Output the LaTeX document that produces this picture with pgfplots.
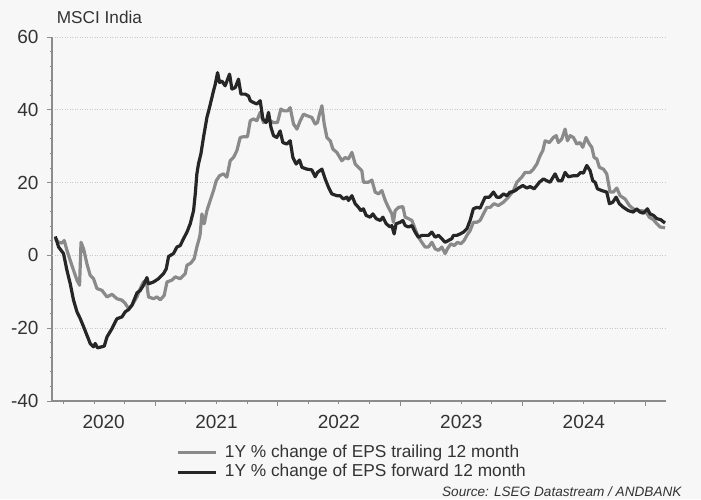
\documentclass[border=0pt]{standalone}
\usepackage{pgfplots}
\pgfplotsset{compat=1.18}
\usepackage{fontspec}
\setmainfont{Liberation Sans}
\definecolor{bg}{RGB}{247,247,247}
\definecolor{txt}{RGB}{51,51,51}
\definecolor{axisgray}{RGB}{140,140,140}
\definecolor{trail}{RGB}{138,138,138}
\definecolor{fwd}{RGB}{38,38,38}
\definecolor{gridc}{RGB}{200,200,200}
\begin{document}
\begin{tikzpicture}[x=1pt,y=1pt]
\fill[bg] (0,0) rectangle (701,499);
\useasboundingbox (0,0) rectangle (701,499);
\node[anchor=base west, font=\fontsize{17.2}{20}\selectfont, text=txt, inner sep=0pt] at (56.7,475.7) {MSCI India};
\node[anchor=base east, font=\fontsize{13.6}{16}\selectfont\itshape, text=txt, inner sep=0pt] at (681.7,2.3) {Source: LSEG Datastream / ANDBANK};
\begin{axis}[
  at={(52pt,98pt)}, anchor=south west,
  scale only axis, width=614pt, height=364pt,
  xmin=2020.157, xmax=2025.171, ymin=-40, ymax=60,
  axis x line*=bottom, axis y line*=left,
  axis line style={axisgray, line width=1.2pt, -},
  tick align=outside,
  major tick length=5pt, minor tick length=2.5pt,
  tick style={axisgray, line width=1pt},
  ytick={-40,-20,0,20,40,60}, minor y tick num=4,
  ymajorgrids,
  y grid style={gridc, dash pattern=on 1pt off 1.5pt, line width=0.9pt},
  extra y ticks={0}, extra y tick labels={},
  extra y tick style={grid=major, major grid style={axisgray, solid, line width=1.3pt}},
  xtick={2021,2022,2023,2024,2025}, xticklabels={,,,,},
  minor xtick={2020.25,2020.5,2020.75,2021.25,2021.5,2021.75,2022.25,2022.5,2022.75,2023.25,2023.5,2023.75,2024.25,2024.5,2024.75},
  extra x ticks={2020.579,2021.5,2022.5,2023.5,2024.5},
  extra x tick labels={2020,2021,2022,2023,2024},
  extra x tick style={major tick length=0pt},
  tick label style={font=\fontsize{19}{22}\selectfont, text=txt},
  x tick label style={yshift=-11pt},
  y tick label style={xshift=-5pt},
  /pgf/number format/assume math mode=true,
  legend style={at={(axis description cs:0.2031,-0.12)}, anchor=north west,
    draw=none, fill=none, font=\fontsize{17.3}{20}\selectfont, text=txt,
    inner sep=0pt, outer sep=0pt, row sep=3.5pt, column sep=7pt,
    nodes={inner sep=0pt, text depth=3.5pt, text height=12.5pt}},
  legend cell align=left,
  legend image code/.code={\draw[#1] (0pt,0pt) -- (38pt,0pt);},
]
\addplot[trail, line width=3.2pt, line join=round] coordinates {
(2020.184,4.6)(2020.211,3.6)(2020.238,3.4)(2020.257,4.1)(2020.279,1.4)(2020.306,-1.4)(2020.333,-4.1)(2020.361,-6.8)(2020.382,-8.2)(2020.394,3.6)(2020.415,1.8)(2020.442,-2.3)(2020.469,-5.5)(2020.496,-6.4)(2020.524,-9.1)(2020.565,-9.6)(2020.606,-11.4)(2020.647,-10.7)(2020.687,-11.9)(2020.728,-12.3)(2020.755,-13.2)(2020.782,-14.6)(2020.810,-13.7)(2020.851,-11.4)(2020.878,-9.1)(2020.904,-7.3)(2020.927,-6.8)(2020.945,-11.4)(2020.986,-11.9)(2021.014,-11.4)(2021.041,-12.2)(2021.073,-11.0)(2021.096,-7.3)(2021.136,-6.8)(2021.163,-5.9)(2021.204,-6.4)(2021.245,-5.0)(2021.259,-2.7)(2021.291,-2.1)(2021.318,-0.9)(2021.340,2.3)(2021.362,5.0)(2021.367,5.9)(2021.381,11.4)(2021.400,8.7)(2021.422,12.3)(2021.449,15.1)(2021.476,17.8)(2021.498,20.5)(2021.525,21.9)(2021.558,22.4)(2021.585,21.5)(2021.612,26.0)(2021.639,26.9)(2021.667,28.8)(2021.694,32.4)(2021.721,32.6)(2021.753,32.6)(2021.776,37.0)(2021.802,37.5)(2021.830,37.0)(2021.857,39.3)(2021.884,36.5)(2021.912,37.0)(2021.939,37.0)(2021.966,36.5)(2021.998,36.5)(2022.026,40.2)(2022.053,39.7)(2022.080,39.7)(2022.102,40.6)(2022.129,36.1)(2022.157,34.7)(2022.184,37.0)(2022.211,38.8)(2022.238,38.4)(2022.279,37.9)(2022.306,36.1)(2022.325,36.5)(2022.341,38.8)(2022.361,41.1)(2022.380,36.1)(2022.402,32.4)(2022.429,31.5)(2022.451,29.2)(2022.483,28.3)(2022.524,26.0)(2022.551,26.9)(2022.578,26.5)(2022.606,28.3)(2022.633,25.1)(2022.660,24.2)(2022.687,23.3)(2022.700,20.1)(2022.741,20.1)(2022.769,20.7)(2022.796,17.4)(2022.823,16.9)(2022.851,17.8)(2022.878,15.1)(2022.904,13.2)(2022.932,11.4)(2022.945,9.1)(2022.959,12.3)(2022.986,13.2)(2023.022,13.4)(2023.041,10.5)(2023.068,10.1)(2023.096,9.6)(2023.122,7.3)(2023.149,5.0)(2023.177,3.6)(2023.204,2.3)(2023.231,2.3)(2023.259,3.6)(2023.286,1.8)(2023.313,1.4)(2023.340,2.3)(2023.367,0.5)(2023.386,1.8)(2023.414,3.2)(2023.441,2.7)(2023.468,3.6)(2023.496,3.2)(2023.522,4.1)(2023.545,5.5)(2023.571,6.8)(2023.598,9.1)(2023.626,9.1)(2023.653,9.6)(2023.680,11.4)(2023.708,13.2)(2023.735,13.2)(2023.767,14.2)(2023.802,13.7)(2023.843,14.6)(2023.884,16.0)(2023.925,17.8)(2023.953,20.1)(2023.993,21.5)(2024.020,22.8)(2024.061,22.8)(2024.088,23.7)(2024.116,25.1)(2024.143,27.4)(2024.165,28.8)(2024.184,31.5)(2024.219,31.0)(2024.251,32.4)(2024.274,32.9)(2024.292,31.0)(2024.320,32.0)(2024.347,34.7)(2024.366,31.5)(2024.388,32.9)(2024.415,32.4)(2024.442,30.6)(2024.469,31.0)(2024.491,29.7)(2024.518,32.4)(2024.545,30.6)(2024.565,29.7)(2024.584,26.9)(2024.606,26.5)(2024.627,24.2)(2024.660,23.7)(2024.687,22.4)(2024.714,17.4)(2024.741,17.4)(2024.769,18.5)(2024.796,16.4)(2024.837,15.5)(2024.872,13.7)(2024.904,12.8)(2024.932,12.3)(2024.973,12.3)(2025.008,11.9)(2025.035,10.5)(2025.068,9.8)(2025.096,8.7)(2025.122,7.8)(2025.163,7.6)
};
\addlegendentry{1Y \% change of EPS trailing 12 month}
\addplot[fwd, line width=3.2pt, line join=round] coordinates {
(2020.184,5.2)(2020.211,2.3)(2020.251,0.5)(2020.279,-4.1)(2020.306,-7.8)(2020.333,-12.3)(2020.361,-15.5)(2020.388,-17.4)(2020.415,-19.6)(2020.442,-21.9)(2020.469,-24.2)(2020.496,-25.1)(2020.510,-24.2)(2020.529,-25.4)(2020.565,-25.1)(2020.584,-24.9)(2020.606,-22.4)(2020.647,-20.1)(2020.687,-17.4)(2020.728,-16.9)(2020.755,-15.5)(2020.782,-14.9)(2020.810,-13.7)(2020.851,-10.3)(2020.878,-9.6)(2020.904,-8.2)(2020.932,-6.1)(2020.945,-7.8)(2020.986,-7.3)(2021.027,-6.4)(2021.068,-5.0)(2021.090,-3.7)(2021.109,-0.3)(2021.149,0.5)(2021.177,2.3)(2021.204,2.7)(2021.231,4.6)(2021.259,6.4)(2021.286,8.7)(2021.313,12.3)(2021.327,16.9)(2021.340,22.4)(2021.353,25.1)(2021.373,27.9)(2021.394,32.4)(2021.422,37.9)(2021.443,40.6)(2021.463,43.4)(2021.476,45.2)(2021.490,47.0)(2021.509,50.2)(2021.525,47.5)(2021.544,47.9)(2021.571,46.6)(2021.607,49.8)(2021.626,45.7)(2021.653,46.1)(2021.680,48.4)(2021.700,44.3)(2021.735,44.3)(2021.762,43.8)(2021.776,42.5)(2021.802,42.0)(2021.830,41.6)(2021.857,42.5)(2021.879,37.5)(2021.906,36.5)(2021.925,39.3)(2021.945,35.2)(2021.966,32.9)(2021.993,32.4)(2022.020,34.2)(2022.042,31.0)(2022.075,30.6)(2022.102,31.5)(2022.124,26.9)(2022.151,25.1)(2022.178,26.2)(2022.198,24.2)(2022.238,23.7)(2022.279,23.5)(2022.306,21.6)(2022.325,22.8)(2022.361,23.7)(2022.388,21.0)(2022.415,18.7)(2022.442,16.9)(2022.483,16.4)(2022.510,16.4)(2022.537,15.5)(2022.565,16.0)(2022.578,15.1)(2022.606,16.4)(2022.633,14.2)(2022.660,13.2)(2022.679,12.3)(2022.700,12.8)(2022.722,11.0)(2022.755,10.5)(2022.777,11.4)(2022.804,10.1)(2022.837,9.6)(2022.859,10.5)(2022.886,8.7)(2022.918,7.8)(2022.932,8.2)(2022.951,5.9)(2022.967,8.7)(2023.000,9.1)(2023.022,9.6)(2023.041,8.2)(2023.068,7.8)(2023.096,8.2)(2023.122,6.4)(2023.149,5.0)(2023.177,5.5)(2023.204,5.5)(2023.231,5.5)(2023.259,6.4)(2023.286,5.0)(2023.313,5.5)(2023.340,4.6)(2023.367,3.6)(2023.394,4.1)(2023.422,4.6)(2023.435,5.5)(2023.463,5.5)(2023.490,5.9)(2023.517,6.4)(2023.545,7.3)(2023.571,9.6)(2023.598,12.8)(2023.626,13.2)(2023.653,13.0)(2023.694,16.0)(2023.729,16.0)(2023.762,17.4)(2023.789,16.0)(2023.816,16.0)(2023.843,16.9)(2023.871,16.4)(2023.898,17.4)(2023.912,17.4)(2023.939,17.8)(2023.966,18.5)(2024.002,19.2)(2024.034,18.5)(2024.061,18.9)(2024.094,18.3)(2024.116,19.2)(2024.137,20.1)(2024.170,21.0)(2024.198,20.5)(2024.224,20.1)(2024.265,22.4)(2024.292,20.5)(2024.320,20.5)(2024.347,22.8)(2024.374,21.6)(2024.415,21.9)(2024.447,21.9)(2024.475,22.8)(2024.496,22.6)(2024.524,24.7)(2024.551,23.3)(2024.573,20.5)(2024.592,20.1)(2024.611,18.3)(2024.647,17.8)(2024.687,17.4)(2024.709,14.2)(2024.736,14.6)(2024.763,16.0)(2024.790,14.2)(2024.823,13.2)(2024.864,12.3)(2024.904,11.9)(2024.932,12.8)(2024.959,11.9)(2024.986,11.6)(2025.019,12.8)(2025.041,11.4)(2025.068,11.0)(2025.096,10.1)(2025.128,9.8)(2025.163,8.9)
};
\addlegendentry{1Y \% change of EPS forward 12 month}
\end{axis}
\end{tikzpicture}
\end{document}
